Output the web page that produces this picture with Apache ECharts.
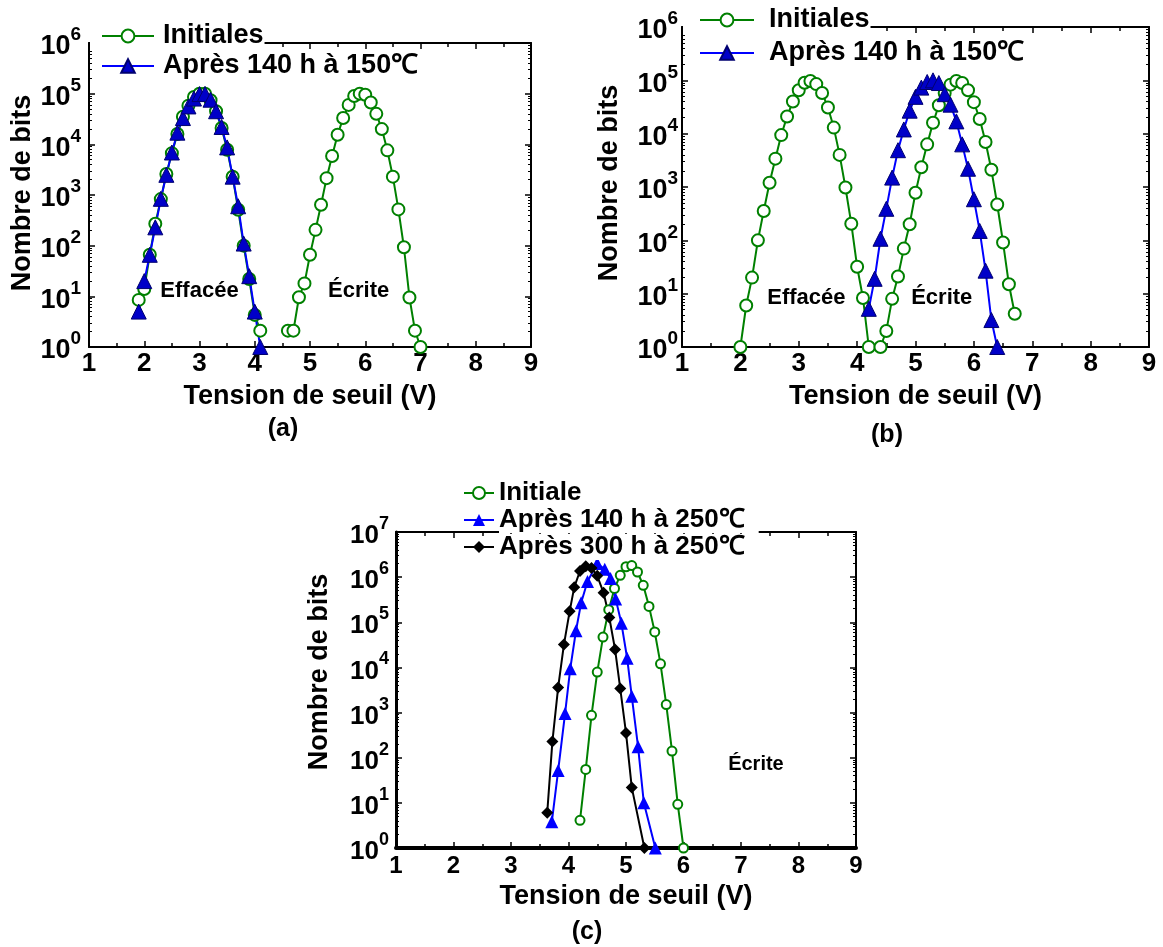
<!DOCTYPE html>
<html>
<head>
<meta charset="utf-8">
<title>Distribution des tensions de seuil</title>
<script src="https://cdn.jsdelivr.net/npm/echarts@6/dist/echarts.min.js"></script>
<style>
  html, body { margin: 0; padding: 0; background: #fff; }
  #chart { width: 1163px; height: 947px; }
</style>
</head>
<body>
<div id="chart"></div>
<script>
// ---------- données ----------
// (a) rétention 140 h à 150 °C
const aEraseV = [1.9, 2.0, 2.1, 2.2, 2.3, 2.4, 2.5, 2.6, 2.7, 2.8, 2.9, 3.0, 3.1, 3.2, 3.3, 3.4, 3.5, 3.6, 3.7, 3.8, 3.9, 4.0, 4.1];
const aEraseInit = [8.5, 14, 66, 270, 830, 2600, 6700, 16000, 35000, 58000, 86000, 100000, 100000, 74000, 45000, 21000, 7800, 2300, 510, 100, 22, 4.3, 2.1];
const aEraseAfter = [5, 20, 66, 230, 840, 2500, 6900, 17000, 33000, 56000, 80000, 98000, 99000, 76000, 45000, 22000, 8700, 2300, 600, 110, 25, 5, 1];
const aWriteV = [4.6, 4.7, 4.8, 4.9, 5.0, 5.1, 5.2, 5.3, 5.4, 5.5, 5.6, 5.7, 5.8, 5.9, 6.0, 6.1, 6.2, 6.3, 6.4, 6.5, 6.6, 6.7, 6.8, 6.9, 7.0];
const aWriteInit = [2.1, 2.1, 9.6, 18, 66, 205, 640, 2150, 5900, 15500, 33000, 60000, 90000, 100000, 95000, 67000, 40000, 20000, 7600, 2300, 520, 93, 9.5, 2.1, 1];

// (b) rétention 140 h à 150 °C
const bEraseV = [2.0, 2.1, 2.2, 2.3, 2.4, 2.5, 2.6, 2.7, 2.8, 2.9, 3.0, 3.1, 3.2, 3.3, 3.4, 3.5, 3.6, 3.7, 3.8, 3.9, 4.0, 4.1, 4.2];
const bEraseInit = [1, 6, 20, 100, 355, 1200, 3400, 9400, 21000, 40000, 65000, 90000, 97000, 85000, 58000, 31000, 13000, 4000, 980, 205, 32, 8.3, 1];
const bWriteV = [4.4, 4.5, 4.6, 4.7, 4.8, 4.9, 5.0, 5.1, 5.2, 5.3, 5.4, 5.5, 5.6, 5.7, 5.8, 5.9, 6.0, 6.1, 6.2, 6.3, 6.4, 6.5, 6.6, 6.7];
const bWriteInit = [1, 2, 8, 21, 70, 200, 780, 2350, 6300, 16000, 34000, 58000, 83000, 97000, 89000, 65000, 39000, 18800, 7000, 2100, 470, 91, 15, 4.2];
const bAfterV = [4.2, 4.3, 4.4, 4.5, 4.6, 4.7, 4.8, 4.9, 5.0, 5.1, 5.2, 5.3, 5.4, 5.5, 5.6, 5.7, 5.8, 5.9, 6.0, 6.1, 6.2, 6.3, 6.4];
const bAfter = [5.2, 19, 107, 390, 1500, 4900, 12000, 27000, 49000, 73000, 93000, 100000, 89000, 55000, 35000, 17000, 6300, 2200, 590, 150, 27, 3.2, 1];

// (c) rétention à 250 °C (état écrit)
const cInitV = [4.2, 4.3, 4.4, 4.5, 4.6, 4.7, 4.8, 4.9, 5.0, 5.1, 5.2, 5.3, 5.4, 5.5, 5.6, 5.7, 5.8, 5.9, 6.0];
const cInit = [4.1, 55, 870, 7900, 47000, 190000, 560000, 1100000, 1700000, 1800000, 1300000, 660000, 225000, 61000, 12000, 1500, 140, 9.3, 1];
const c140V = [3.71, 3.82, 3.94, 4.03, 4.13, 4.22, 4.33, 4.5, 4.63, 4.73, 4.82, 4.92, 5.02, 5.1, 5.21, 5.31, 5.51];
const c140 = [3.8, 52, 950, 9300, 65000, 270000, 800000, 2000000, 1500000, 930000, 330000, 95000, 16000, 2300, 174, 10, 1];
const c300V = [3.63, 3.72, 3.82, 3.92, 4.02, 4.1, 4.2, 4.3, 4.4, 4.5, 4.61, 4.71, 4.81, 4.9, 5.0, 5.1, 5.32];
const c300 = [6, 230, 3600, 32000, 175000, 600000, 1370000, 1740000, 1600000, 1070000, 450000, 127000, 25000, 3400, 355, 22, 1];

// libellés
const xTitle = 'Tension de seuil (V)';
const yTitle = 'Nombre de bits';
const nameInit = 'Initiales';
const name150 = 'Après 140 h à 150℃';
const nameInitC = 'Initiale';
const name250a = 'Après 140 h à 250℃';
const name250b = 'Après 300 h à 250℃';

// ---------- style ----------
const FONT = "'Liberation Sans', Arial, Helvetica, sans-serif";
const GREEN = '#008000';
const BLUE = '#0000ff';

const pairs = (xs, ys) => xs.map((x, i) => [x, ys[i]]);

// étiquettes 10^n en exposant
const yLabel = v => '{b|10}{s|' + Math.round(Math.log10(v)) + '}';
const richLabel = (big, small) => ({
  b: { fontSize: big, fontWeight: 'bold', fontFamily: FONT, color: '#000', lineHeight: big + 8, verticalAlign: 'bottom' },
  s: { fontSize: small, fontWeight: 'bold', fontFamily: FONT, color: '#000', verticalAlign: 'top' }
});

// petites graduations logarithmiques (2..9 dans chaque décade)
const logMinor = yMax => {
  const out = [];
  for (let p = 1; p < yMax; p *= 10) for (let k = 2; k <= 9; k++) out.push(k * p);
  return out;
};

const xAxes = [];
const yAxes = [];

function addAxes(gi, yMax, cfg) {
  const tick = { show: true, inside: true, length: 6, lineStyle: { color: '#000', width: 1.5 } };
  const xBase = {
    gridIndex: gi, type: 'value', min: 1, max: 9, interval: 1,
    splitLine: { show: false }, axisTick: tick,
    minorTick: { show: true, splitNumber: 2, length: 4, lineStyle: { color: '#000', width: 1.5 } }
  };
  const yBase = {
    gridIndex: gi, type: 'log', logBase: 10, min: 1, max: yMax, splitNumber: 7,
    splitLine: { show: false }, axisTick: tick
  };
  xAxes.push(Object.assign({}, xBase, {
    position: 'bottom',
    axisLine: { onZero: false, lineStyle: { color: '#000', width: cfg.bottomW } },
    axisLabel: { color: '#000', fontSize: cfg.xFont, fontWeight: 'bold', fontFamily: FONT, margin: cfg.xMargin },
    name: xTitle, nameLocation: 'middle', nameGap: cfg.xNameGap,
    nameTextStyle: { color: '#000', fontSize: 27, fontWeight: 'bold', fontFamily: FONT, lineHeight: 28 }
  }));
  xAxes.push(Object.assign({}, xBase, {
    position: 'top',
    axisLine: { onZero: false, lineStyle: { color: '#000', width: 2 } },
    axisLabel: { show: false }
  }));
  yAxes.push(Object.assign({}, yBase, {
    position: 'left',
    axisLine: { onZero: false, lineStyle: { color: '#000', width: cfg.leftW } },
    axisLabel: { formatter: yLabel, margin: cfg.yMargin, rich: richLabel(cfg.yFont, cfg.supFont) },
    name: yTitle, nameLocation: 'middle', nameGap: cfg.yNameGap,
    nameTextStyle: { color: '#000', fontSize: 27, fontWeight: 'bold', fontFamily: FONT, lineHeight: 28, padding: cfg.yNamePad }
  }));
  yAxes.push(Object.assign({}, yBase, {
    position: 'right',
    axisLine: { onZero: false, lineStyle: { color: '#000', width: 2 } },
    axisLabel: { show: false }
  }));
  // axes superposés qui ne portent que les petites graduations
  ['left', 'right'].forEach(pos => {
    yAxes.push({
      gridIndex: gi, type: 'log', logBase: 10, min: 1, max: yMax, position: pos,
      axisLine: { show: false }, axisLabel: { show: false }, splitLine: { show: false },
      axisTick: { show: true, inside: true, length: 3, customValues: logMinor(yMax), lineStyle: { color: '#000', width: 1 } }
    });
  });
}

addAxes(0, 1e6, { bottomW: 2, leftW: 2, xFont: 26, xMargin: 4, xNameGap: 36, yFont: 27, supFont: 19, yMargin: 8, yNameGap: 52, yNamePad: [0, 0, 0, 4] });
addAxes(1, 1e6, { bottomW: 2, leftW: 2, xFont: 26, xMargin: 4, xNameGap: 36, yFont: 27, supFont: 19, yMargin: 4, yNameGap: 58, yNamePad: [0, 0, 0, 8] });
addAxes(2, 1e7, { bottomW: 4, leftW: 3, xFont: 24, xMargin: 6, xNameGap: 35, yFont: 26, supFont: 18, yMargin: 7, yNameGap: 62, yNamePad: [0, 0, 0, 36] });

// 4 axes y par panneau : gauche, droite, puis deux pour les petites graduations
const yIdx = gi => gi * 4;

const circle = (gi, name, xs, ys, size) => ({
  type: 'line', name, xAxisIndex: gi * 2, yAxisIndex: yIdx(gi), data: pairs(xs, ys),
  symbol: 'emptyCircle', symbolSize: size,
  lineStyle: { color: GREEN, width: 2 },
  itemStyle: { color: GREEN, borderWidth: 2 }
});
const triangle = (gi, name, xs, ys, size, fill, border) => ({
  type: 'line', name, xAxisIndex: gi * 2, yAxisIndex: yIdx(gi), data: pairs(xs, ys),
  symbol: 'triangle', symbolSize: size,
  lineStyle: { color: BLUE, width: 2 },
  itemStyle: { color: fill, borderColor: border, borderWidth: border ? 1 : 0 }
});
const diamond = (gi, name, xs, ys, size) => ({
  type: 'line', name, xAxisIndex: gi * 2, yAxisIndex: yIdx(gi), data: pairs(xs, ys),
  symbol: 'diamond', symbolSize: size,
  lineStyle: { color: '#000', width: 2 },
  itemStyle: { color: '#000' }
});

// texte « Effacée » / « Écrite » posé en coordonnées de données
const note = (txt, x, y, size) => ({
  name: txt, coord: [x, y], symbol: 'rect', symbolSize: 1,
  itemStyle: { color: 'rgba(0,0,0,0)' },
  label: { show: true, position: 'inside', formatter: '{b}', color: '#000', fontSize: size, fontWeight: 'bold', fontFamily: FONT }
});

const aErase = circle(0, nameInit, aEraseV, aEraseInit, 12);
aErase.markPoint = { silent: true, data: [note('Effacée', 3.0, 13, 22), note('Écrite', 5.88, 13, 22)] };
const bErase = circle(1, nameInit, bEraseV, bEraseInit, 12);
bErase.markPoint = { silent: true, data: [note('Effacée', 3.13, 8.3, 22), note('Écrite', 5.45, 8.3, 22)] };
const cGreen = circle(2, nameInitC, cInitV, cInit, 9);
cGreen.markPoint = { silent: true, data: [note('Écrite', 7.26, 72, 20)] };

const series = [
  aErase,
  circle(0, nameInit, aWriteV, aWriteInit, 12),
  triangle(0, name150, aEraseV, aEraseAfter, 15, '#0000c8', '#000070'),
  bErase,
  circle(1, nameInit, bWriteV, bWriteInit, 12),
  triangle(1, name150, bAfterV, bAfter, 15, '#0000c8', '#000070'),
  cGreen,
  triangle(2, name250a, c140V, c140, 13, BLUE, null),
  diamond(2, name250b, c300V, c300, 12)
];

const legendText = (size, lh, pad, bg) => ({
  color: '#000', fontSize: size, fontWeight: 'bold', fontFamily: FONT, lineHeight: lh,
  padding: pad, backgroundColor: bg
});

const option = {
  backgroundColor: '#fff',
  animation: false,
  grid: [
    { left: 89, top: 43, width: 442, height: 304, outerBoundsMode: 'none' },
    { left: 682, top: 27, width: 467, height: 320, outerBoundsMode: 'none' },
    { left: 396, top: 532, width: 460, height: 316, outerBoundsMode: 'none' }
  ],
  xAxis: xAxes,
  yAxis: yAxes,
  legend: [
    // (a) – la première ligne masque le cadre supérieur
    { data: [nameInit], orient: 'vertical', left: 90, top: 22, padding: [0, 1, 0, 11], backgroundColor: '#fff',
      itemWidth: 52, itemHeight: 16, selectedMode: false, textStyle: legendText(27, 28, [0, 0, 0, 4]) },
    { data: [name150], orient: 'vertical', left: 101, top: 52, padding: 0,
      itemWidth: 52, itemHeight: 17, selectedMode: false, textStyle: legendText(27, 28, [0, 0, 0, 4]) },
    // (b)
    { data: [nameInit], orient: 'vertical', left: 683, top: 6, padding: [0, 1, 0, 16], backgroundColor: '#fff',
      itemWidth: 54, itemHeight: 16, selectedMode: false, textStyle: legendText(27, 28, [0, 0, 0, 10]) },
    { data: [name150], orient: 'vertical', left: 699, top: 39, padding: 0,
      itemWidth: 54, itemHeight: 17, selectedMode: false, textStyle: legendText(27, 28, [0, 0, 0, 10]) },
    // (c)
    { data: [nameInitC, name250a, name250b], orient: 'vertical', left: 463, top: 480, padding: 0, itemGap: 1,
      itemWidth: 30, itemHeight: 15, selectedMode: false, textStyle: legendText(26, 26, [0, 14, 0, 0], '#fff') }
  ],
  graphic: [
    { type: 'text', x: 283, y: 429, style: { text: '(a)', font: 'bold 25px ' + FONT, fill: '#000', textAlign: 'center', textVerticalAlign: 'middle' } },
    { type: 'text', x: 887, y: 435, style: { text: '(b)', font: 'bold 25px ' + FONT, fill: '#000', textAlign: 'center', textVerticalAlign: 'middle' } },
    { type: 'text', x: 587, y: 932, style: { text: '(c)', font: 'bold 25px ' + FONT, fill: '#000', textAlign: 'center', textVerticalAlign: 'middle' } }
  ],
  series: series
};

const chart = echarts.init(document.getElementById('chart'), null, { renderer: 'canvas' });
chart.setOption(option);
</script>
</body>
</html>
